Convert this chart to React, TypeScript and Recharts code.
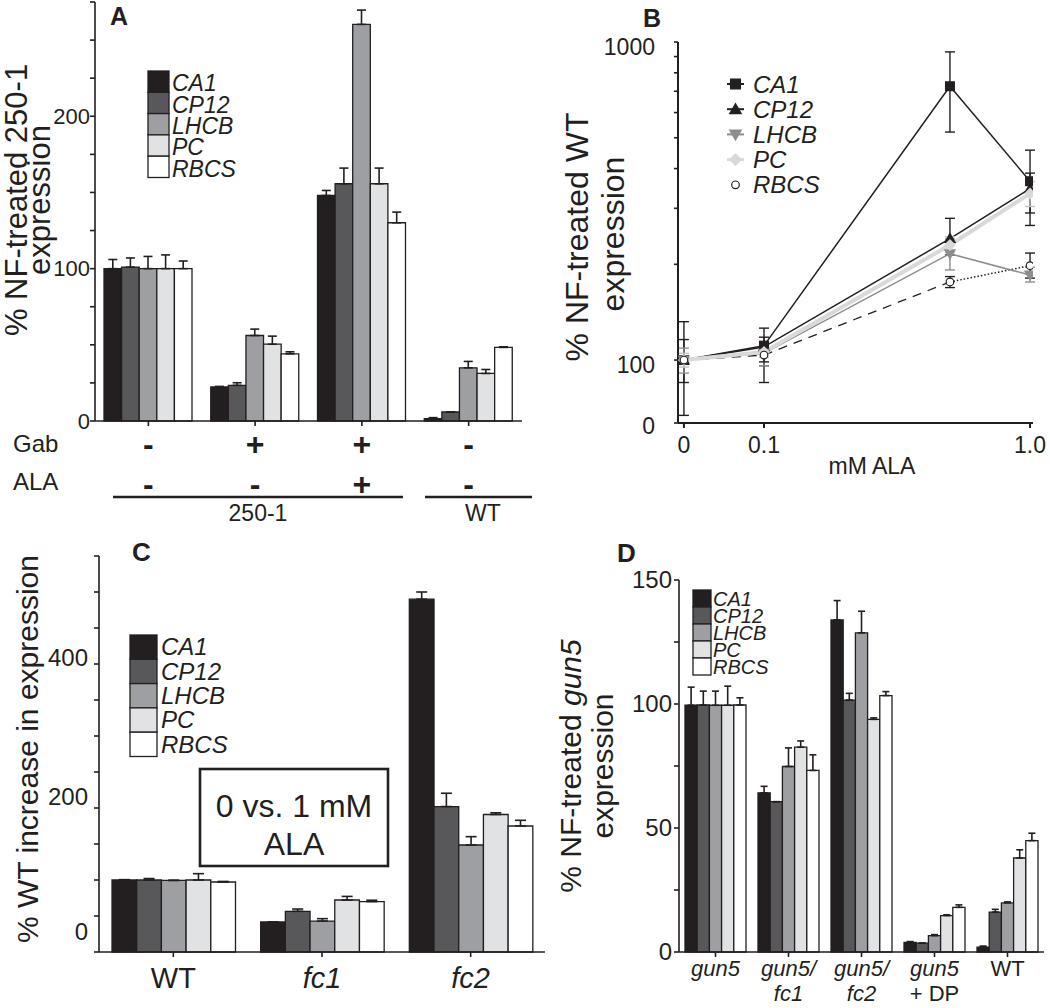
import { BarChart, Bar, XAxis, YAxis, ErrorBar, LineChart, Line } from "recharts";

const FONT = "'Liberation Sans', Arial, Helvetica, sans-serif";
const INK = "#231f20";

const genes = ["CA1", "CP12", "LHCB", "PC", "RBCS"];
const geneFills = ["#231f20", "#58585a", "#9d9fa2", "#e1e2e3", "#ffffff"];

// ---- panel A: % NF-treated 250-1 expression
const aGroups = ["250-1 ctrl", "250-1 Gab", "250-1 Gab+ALA", "WT ctrl"];
const aGab = ["-", "+", "+", "-"];
const aAla = ["-", "-", "+", "-"];
const aCA1 = [100, 22.3, 148, 1.5];
const aCP12 = [101, 23.4, 155.7, 5.9];
const aLHCB = [100, 56.1, 260.3, 34.9];
const aPC = [100, 50.4, 155.7, 31.2];
const aRBCS = [100, 44.1, 130.1, 48.3];
const aCA1Err = [6, 0.4, 3.3, 0.7];
const aCP12Err = [6, 1.7, 10.3, 0];
const aLHCBErr = [8, 4.2, 9.4, 4.2];
const aPCErr = [9, 5.3, 10.3, 2.6];
const aRBCSErr = [5, 1.3, 7, 0.4];
const aTicks = [0, 25, 50, 75, 100, 125, 150, 175, 200, 225, 250, 275];
const aTickLabels = [0, 100, 200];

// ---- panel B: % NF-treated WT expression vs mM ALA (log axes)
const bDoses = [0, 0.1, 0.5, 1.0];
const bCA1 = [100, 111, 726, 365];
const bCP12 = [100, 110, 241, 346];
const bLHCB = [100, 105, 216, 185];
const bPC = [100, 106, 230, 334];
const bRBCS = [100, 103.7, 176, 198];
const bCA1Err = [[33, 32], [26, 15], [205, 205], [100, 92]];
const bCP12Err = [[15, 16], [14, 8], [27, 38], [56, 41]];
const bLHCBErr = [[9, 9], [9, 7], [24, 24], [9, 11]];
const bPCErr = [[5, 5], [4, 4], [12, 14], [30, 30]];
const bRBCSErr = [[3, 3], [5, 5], [7, 7], [17, 19]];
const B_FLOOR = 63.4; // value at the bottom of the broken log axis, labelled "0"
const B_ZERO_AT = 0.05; // where dose 0 sits on the broken log x axis
const bYTicks = [B_FLOOR, 100, 200, 300, 400, 500, 600, 700, 800, 900, 1000];
const bXTicks = [B_ZERO_AT, 0.1, 1];

// ---- panel C: % WT increase in expression, 0 vs 1 mM ALA
const cGroups = ["WT", "fc1", "fc2"];
const cCA1 = [100, 41.7, 490];
const cCP12 = [100, 56.5, 202];
const cLHCB = [99.5, 43, 148.6];
const cPC = [100, 72.2, 191];
const cRBCS = [97.2, 70, 175];
const cCA1Err = [0.5, 0, 10];
const cCP12Err = [2, 3.2, 18.5];
const cLHCBErr = [0, 3.3, 11.6];
const cPCErr = [8.8, 5, 2.3];
const cRBCSErr = [0.8, 1.9, 7.9];
const cTicks = [0, 50, 100, 150, 200, 250, 300, 350, 400, 450, 500, 550];
const cTickLabels = [0, 200, 400];

// ---- panel D: % NF-treated gun5 expression
const dGroups = ["gun5", "gun5/fc1", "gun5/fc2", "gun5 + DP", "WT"];
const dLine1 = ["gun5", "gun5/", "gun5/", "gun5", "WT"];
const dLine2 = ["", "fc1", "fc2", "+ DP", ""];
const dCA1 = [99.5, 64.2, 133.9, 3.9, 2];
const dCP12 = [99.6, 60.6, 101.6, 3.6, 16.1];
const dLHCB = [99.5, 74.8, 128.7, 6.6, 19.8];
const dPC = [99.5, 82.6, 93.8, 14.7, 37.9];
const dRBCS = [99.6, 73.2, 103.4, 18, 44.9];
const dCA1Err = [7.3, 2.6, 7.8, 0.3, 0.4];
const dCP12Err = [5.6, 0, 2.7, 0, 1.1];
const dLHCBErr = [5.7, 7.5, 8.7, 0.4, 0.4];
const dPCErr = [7.7, 2.5, 0.6, 0.3, 3.3];
const dRBCSErr = [2.9, 6.3, 1.6, 1, 3];
const dTicks = [0, 25, 50, 75, 100, 125, 150];
const dTickLabels = [0, 50, 100, 150];

function buildRows(groups: string[], values: number[][], errors: number[][]) {
  return groups.map((name, i) => {
    const row: any = { name };
    genes.forEach((g, k) => {
      row[g] = values[k][i];
      row[g + "_err"] = [0, errors[k][i]];
    });
    return row;
  });
}

const aRows = buildRows(aGroups, [aCA1, aCP12, aLHCB, aPC, aRBCS], [aCA1Err, aCP12Err, aLHCBErr, aPCErr, aRBCSErr]);
const cRows = buildRows(cGroups, [cCA1, cCP12, cLHCB, cPC, cRBCS], [cCA1Err, cCP12Err, cLHCBErr, cPCErr, cRBCSErr]);
const dRows = buildRows(dGroups, [dCA1, dCP12, dLHCB, dPC, dRBCS], [dCA1Err, dCP12Err, dLHCBErr, dPCErr, dRBCSErr]);

const bSeries = [
  { gene: "CA1", vals: bCA1, errs: bCA1Err, kind: "square", color: INK, width: 1.5 },
  { gene: "CP12", vals: bCP12, errs: bCP12Err, kind: "triangle", color: INK, width: 1.5 },
  { gene: "LHCB", vals: bLHCB, errs: bLHCBErr, kind: "down", color: "#8d8d8d", width: 1.5 },
  { gene: "PC", vals: bPC, errs: bPCErr, kind: "diamond", color: "#d9d9d9", width: 4 },
  { gene: "RBCS", vals: bRBCS, errs: bRBCSErr, kind: "circle", color: INK, width: 1.3 },
];

const bRows = bDoses.map((dose, i) => {
  const row: any = { x: dose === 0 ? B_ZERO_AT : dose };
  bSeries.forEach((s) => {
    row[s.gene] = s.vals[i];
    row[s.gene + "_err"] = s.errs[i];
  });
  // RBCS is drawn dashed up to 0.5 mM, dotted after it
  row.RBCS_dash = dose <= 0.5 ? bRBCS[i] : null;
  row.RBCS_dot = dose >= 0.5 ? bRBCS[i] : null;
  return row;
});

const axisStyle = { stroke: INK, strokeWidth: 1.6 };

function YTick(props: any) {
  const { x, y, payload, shown, fontSize, shift, dx, names } = props;
  const v = payload.value;
  if (!shown.includes(v)) return <g />;
  const label = names && names[v] !== undefined ? names[v] : String(v);
  return (
    <text x={x + (dx || 0)} y={y + ((shift && shift[v]) || 0)} dy="0.35em" textAnchor="end" fontSize={fontSize} fontFamily={FONT} fill={INK}>
      {label}
    </text>
  );
}

function SignTick(props: any) {
  const { x, y, index } = props;
  return (
    <g fontFamily={FONT} fontWeight="bold" fontSize={32} fill={INK} textAnchor="middle">
      <text x={x} y={y + 27}>{aGab[index]}</text>
      <text x={x} y={y + 67}>{aAla[index]}</text>
    </g>
  );
}

function CTick(props: any) {
  const { x, y, payload } = props;
  const italic = payload.value.startsWith("fc");
  return (
    <text x={x} y={y + 29} textAnchor="middle" fontSize={29} fontFamily={FONT} fontStyle={italic ? "italic" : "normal"} fill={INK}>
      {payload.value}
    </text>
  );
}

function DTick(props: any) {
  const { x, y, index } = props;
  const l1 = dLine1[index];
  const l2 = dLine2[index];
  return (
    <g fontFamily={FONT} fontSize={22} fill={INK} textAnchor="middle">
      <text x={x} y={y + 17} fontStyle={l1 === "WT" ? "normal" : "italic"}>{l1}</text>
      <text x={x} y={y + 42} fontStyle={l2.startsWith("fc") ? "italic" : "normal"}>{l2}</text>
    </g>
  );
}

function BTickX(props: any) {
  const { x, y, payload } = props;
  const v = payload.value;
  const label = v === B_ZERO_AT ? "0" : v === 1 ? "1.0" : String(v);
  return (
    <text x={x} y={y + 23} textAnchor="middle" fontSize={23} fontFamily={FONT} fill={INK}>
      {label}
    </text>
  );
}

function GeneBarChart(props: any) {
  const { rows, width, height, margin, xHeight, yDomain, yTicks, yLabels, yFont, yShift, yDx, barSize, cap, xTick } = props;
  return (
    <BarChart width={width} height={height} data={rows} margin={margin} barGap={0} barSize={barSize}>
      <XAxis dataKey="name" interval={0} height={xHeight} axisLine={axisStyle} tickLine={axisStyle} tickSize={5} tick={xTick} />
      <YAxis
        type="number"
        domain={yDomain}
        ticks={yTicks}
        interval={0}
        width={60}
        axisLine={axisStyle}
        tickLine={axisStyle}
        tickSize={5}
        tick={(p: any) => <YTick {...p} shown={yLabels} fontSize={yFont} shift={yShift} dx={yDx} />}
      />
      {genes.map((g, k) => (
        <Bar key={g} dataKey={g} fill={geneFills[k]} stroke={INK} strokeWidth={1.3} isAnimationActive={false}>
          <ErrorBar dataKey={g + "_err"} width={cap} stroke={INK} strokeWidth={1.6} direction="y" />
        </Bar>
      ))}
    </BarChart>
  );
}

function Marker({ cx, cy, kind, color, size }: any) {
  const s = size;
  if (cx == null || cy == null) return <g />;
  if (kind === "square") return <rect x={cx - s / 2} y={cy - s / 2} width={s} height={s} fill={color} />;
  if (kind === "triangle")
    return <polygon points={`${cx},${cy - s * 0.62} ${cx - s * 0.62},${cy + s * 0.45} ${cx + s * 0.62},${cy + s * 0.45}`} fill={color} />;
  if (kind === "down")
    return <polygon points={`${cx},${cy + s * 0.62} ${cx - s * 0.62},${cy - s * 0.45} ${cx + s * 0.62},${cy - s * 0.45}`} fill={color} />;
  if (kind === "diamond")
    return <polygon points={`${cx},${cy - s * 0.6} ${cx + s * 0.6},${cy} ${cx},${cy + s * 0.6} ${cx - s * 0.6},${cy}`} fill={color} />;
  return <circle cx={cx} cy={cy} r={s * 0.38} fill="#fff" stroke={INK} strokeWidth={1.2} />;
}

function PanelB() {
  return (
    <LineChart width={525} height={504} data={bRows} margin={{ top: 42, right: 17, bottom: 0, left: 93 }}>
      <XAxis
        dataKey="x"
        type="number"
        scale="log"
        domain={[0.0475, 1.026]}
        allowDataOverflow
        ticks={bXTicks}
        interval={0}
        height={81}
        axisLine={{ stroke: INK, strokeWidth: 2 }}
        tickLine={{ stroke: INK, strokeWidth: 2 }}
        tickSize={5}
        tick={<BTickX />}
      />
      <YAxis
        type="number"
        scale="log"
        domain={[B_FLOOR, 1000]}
        allowDataOverflow
        ticks={bYTicks}
        interval={0}
        width={60}
        axisLine={{ stroke: INK, strokeWidth: 2 }}
        tickLine={{ stroke: INK, strokeWidth: 1.6 }}
        tickSize={4}
        tick={(p: any) => (
          <YTick {...p} shown={[B_FLOOR, 100, 1000]} names={{ [B_FLOOR]: "0" }} fontSize={23} shift={{ [B_FLOOR]: 3, 100: 5, 1000: 5 }} dx={-17} />
        )}
      />
      <Line dataKey="RBCS_dash" stroke={INK} strokeWidth={1.3} strokeDasharray="9 7" dot={false} isAnimationActive={false} />
      <Line dataKey="RBCS_dot" stroke={INK} strokeWidth={1.5} strokeDasharray="1.5 2" dot={false} isAnimationActive={false} />
      {bSeries.map((s) => (
        <Line
          key={s.gene}
          dataKey={s.gene}
          stroke={s.gene === "RBCS" ? "none" : s.color}
          strokeWidth={s.width}
          isAnimationActive={false}
          dot={(p: any) => <Marker key={s.gene + p.index} cx={p.cx} cy={p.cy} kind={s.kind} color={s.color} size={10} />}
          activeDot={false}
        >
          <ErrorBar dataKey={s.gene + "_err"} width={5} stroke={s.gene === "PC" ? "#c4c4c4" : s.color} strokeWidth={1.4} direction="y" />
        </Line>
      ))}
    </LineChart>
  );
}

function BarLegend({ x, y, w, h, fontSize, textX, base }: any) {
  return (
    <g>
      {genes.map((g, k) => (
        <g key={g}>
          <rect x={x} y={y + k * h} width={w} height={h} fill={geneFills[k]} stroke={INK} strokeWidth={1.3} />
          <text x={textX} y={y + (k + 1) * h - base} fontSize={fontSize} fontStyle="italic" fontFamily={FONT} fill={INK}>
            {g}
          </text>
        </g>
      ))}
    </g>
  );
}

function LineLegend() {
  return (
    <g>
      {bSeries.map((s, k) => {
        const cy = 84 + k * 25.2;
        return (
          <g key={s.gene}>
            {s.kind !== "circle" && <line x1={727} x2={744} y1={cy} y2={cy} stroke={s.color} strokeWidth={s.kind === "diamond" ? 3 : 2} />}
            <Marker cx={735.5} cy={cy} kind={s.kind} color={s.color} size={s.kind === "circle" ? 10 : 11} />
            <text x={753} y={cy + 8.5} fontSize={24} fontStyle="italic" fontFamily={FONT} fill={INK}>
              {s.gene}
            </text>
          </g>
        );
      })}
    </g>
  );
}

function Overlay() {
  const t = { fontFamily: FONT, fill: INK };
  return (
    <svg width={1050} height={1008} style={{ position: "absolute", left: 0, top: 0, pointerEvents: "none" }}>
      {/* panel letters */}
      <text x={110} y={25} fontSize={25} fontWeight="bold" {...t}>A</text>
      <text x={643} y={27} fontSize={25} fontWeight="bold" {...t}>B</text>
      <text x={132} y={561} fontSize={26} fontWeight="bold" {...t}>C</text>
      <text x={617} y={562} fontSize={26} fontWeight="bold" {...t}>D</text>

      {/* A annotations */}
      <g fontSize={31} textAnchor="middle" {...t}>
        <text transform="translate(27,200) rotate(-90)">% NF-treated 250-1</text>
        <text transform="translate(50,200) rotate(-90)">expression</text>
      </g>
      <BarLegend x={148} y={71} w={21} h={21.3} fontSize={23} textX={172} base={1} />
      <text x={13} y={452} fontSize={24} {...t}>Gab</text>
      <text x={13} y={490} fontSize={24} {...t}>ALA</text>
      <line x1={113} x2={403} y1={497} y2={497} stroke={INK} strokeWidth={2.6} />
      <line x1={425} x2={532} y1={497} y2={497} stroke={INK} strokeWidth={2.6} />
      <text x={258} y={521} fontSize={23} textAnchor="middle" {...t}>250-1</text>
      <text x={483} y={521} fontSize={23} textAnchor="middle" {...t}>WT</text>

      {/* B annotations */}
      <g fontSize={32} textAnchor="middle" {...t}>
        <text transform="translate(588,237) rotate(-90)">% NF-treated WT</text>
        <text transform="translate(624,234) rotate(-90)">expression</text>
      </g>
      <LineLegend />
      <text x={872} y={474} fontSize={23} textAnchor="middle" {...t}>mM ALA</text>

      {/* C annotations */}
      <text transform="translate(38,749) rotate(-90)" fontSize={30} textAnchor="middle" {...t}>% WT increase in expression</text>
      <BarLegend x={130} y={635} w={27} h={24.3} fontSize={24} textX={161} base={4} />
      <rect x={200} y={769} width={188} height={97} fill="#fff" stroke={INK} strokeWidth={2.6} />
      <text x={294} y={817} fontSize={32} textAnchor="middle" {...t}>0 vs. 1 mM</text>
      <text x={294} y={855} fontSize={32} textAnchor="middle" {...t}>ALA</text>

      {/* D annotations */}
      <g fontSize={30} textAnchor="middle" {...t}>
        <text transform="translate(581,766) rotate(-90)">
          <tspan>% NF-treated </tspan>
          <tspan fontStyle="italic">gun5</tspan>
        </text>
        <text transform="translate(613,766) rotate(-90)">expression</text>
      </g>
      <BarLegend x={693} y={590} w={18} h={17} fontSize={20} textX={713} base={1} />
    </svg>
  );
}

export default function App() {
  return (
    <div style={{ position: "absolute", left: 0, top: 0, width: 1050, height: 1008, background: "#fff", overflow: "hidden", fontFamily: FONT }}>
      <div style={{ position: "absolute", left: 0, top: 0 }}>
        <GeneBarChart
          rows={aRows}
          width={525}
          height={504}
          margin={{ top: 2, right: 3, bottom: 0, left: 35 }}
          xHeight={83}
          yDomain={[0, 275]}
          yTicks={aTicks}
          yLabels={aTickLabels}
          yFont={22}
          yDx={2}
          barSize={17.6}
          cap={4.5}
          xTick={<SignTick />}
        />
      </div>
      <div style={{ position: "absolute", left: 525, top: 0 }}>
        <PanelB />
      </div>
      <div style={{ position: "absolute", left: 0, top: 504 }}>
        <GeneBarChart
          rows={cRows}
          width={550}
          height={504}
          margin={{ top: 52, right: 5, bottom: 0, left: 39 }}
          xHeight={56}
          yDomain={[0, 550]}
          yTicks={cTicks}
          yLabels={cTickLabels}
          yFont={24}
          yShift={{ 0: -20, 200: -11, 400: -6 }}
          yDx={-4}
          barSize={24.7}
          cap={5.5}
          xTick={<CTick />}
        />
      </div>
      <div style={{ position: "absolute", left: 525, top: 504 }}>
        <GeneBarChart
          rows={dRows}
          width={525}
          height={504}
          margin={{ top: 76, right: 6, bottom: 0, left: 94 }}
          xHeight={56}
          yDomain={[0, 150]}
          yTicks={dTicks}
          yLabels={dTickLabels}
          yFont={24}
          yDx={0}
          barSize={12.2}
          cap={3.5}
          xTick={<DTick />}
        />
      </div>
      <Overlay />
    </div>
  );
}
